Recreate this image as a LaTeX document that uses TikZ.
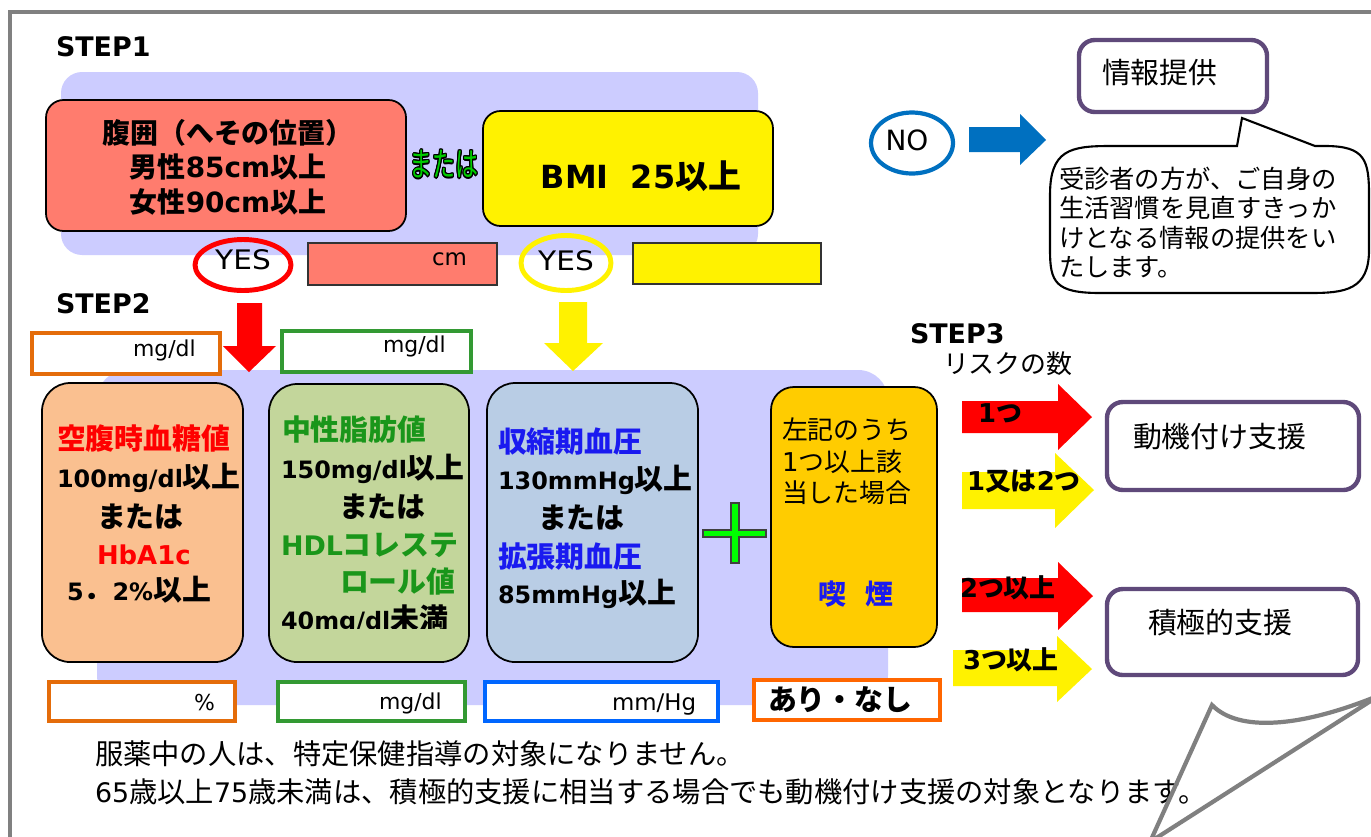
\documentclass[tikz,border=0pt]{standalone}
\usepackage{fontspec}
\setmainfont{Noto Sans CJK JP}
\newfontfamily\dv{DejaVu Sans}
\usepackage[copies]{contour}
\contourlength{0.5pt}
\usetikzlibrary{fit,shapes.geometric}
\definecolor{lav}{HTML}{CCCCFF}
\definecolor{salmon}{HTML}{FF7C6E}
\definecolor{peach}{HTML}{FAC090}
\definecolor{olive}{HTML}{C3D69B}
\definecolor{lblue}{HTML}{B9CDE5}
\definecolor{gold}{HTML}{FFCC00}
\definecolor{orgA}{HTML}{E46C0A}
\definecolor{orgB}{HTML}{FF6600}
\definecolor{grnB}{HTML}{339933}
\definecolor{bluB}{HTML}{0066FF}
\definecolor{purp}{HTML}{5F497A}
\definecolor{arrblue}{HTML}{0070C0}
\definecolor{txtgreen}{HTML}{1A961A}
\definecolor{txtblue}{HTML}{1A1AF0}
\definecolor{framegray}{HTML}{808080}
\definecolor{plusg}{HTML}{00FF00}
\definecolor{matagreen}{HTML}{00CC00}
\newcommand\px[1]{\fontsize{\fpeval{0.567*#1}}{\fpeval{0.70*#1}}\selectfont}
\newcommand\D[2]{{\dv\px{#1}#2}}
\tikzset{
  txtw/.style={inner sep=0pt, outer sep=0pt, anchor=west},
  txtc/.style={inner sep=0pt, outer sep=0pt, anchor=center},
  bigbox/.style={inner sep=0pt, draw=black, line width=1pt},
  unitbox/.style={inner sep=0pt, fill=white, line width=2.6pt},
  purpbox/.style={inner sep=0pt, fill=white, draw=purp, line width=2.5pt, rounded corners=9pt},
  stepfont/.style={font=\dv\bfseries\px{27}},
  colfont/.style={font=\bfseries\px{29}},
  yesfont/.style={font=\dv\px{27}},
}
\begin{document}
\begin{tikzpicture}[x=0.02cm, y=-0.02cm]
\useasboundingbox (0,0) rectangle (1371,836);
\clip (0,0) rectangle (1371,836);
\fill[white] (0,0) rectangle (1371,836);
\draw[framegray, line width=2.4pt] (10,900) -- (10,12) -- (1400,12);

% ---------- STEP1 ----------
\node[txtw, stepfont] (step1) at (56,47) {STEP1};
\fill[lav, rounded corners=12pt] (61,72) rectangle (758,255);
\node[bigbox, fill=salmon, rounded corners=10pt, fit={(46,100) (406,231)}] (waist) {};
\node[txtc, align=center, font=\bfseries\fontsize{15.9}{19.6}\selectfont] (waisttxt) at (228,167)
  {腹囲（へその位置）\\男性\D{28}{85cm}以上\\女性\D{28}{90cm}以上};
\node[txtc] (or1) at (444,165) {\scalebox{1}[1.45]{\px{23}\color{matagreen}\contour{black}{または}}};
\node[bigbox, fill=yellow, rounded corners=10pt, fit={(483,111) (773,226)}] (bmi) {};
\node[txtc, font=\bfseries\px{33}] (bmitxt) at (641,176) {\D{32}{BMI\ \ 25}以上};

\node[ellipse, draw=red, line width=2.8pt, minimum width=1.92cm, minimum height=1.02cm, inner sep=0pt] (yes1) at (243,265) {};
\node[txtc, yesfont, xscale=1.1] (yes1t) at (243,260) {YES};
\node[inner sep=0pt, draw=black!80, line width=0.8pt, fill=salmon, fit={(308,243) (497,285)}] (cmbox) {};
\node[txtw, font=\dv\px{23}] (cm) at (432,259) {cm};
\node[ellipse, draw=yellow, line width=2.8pt, minimum width=1.8cm, minimum height=1.1cm, inner sep=0pt] (yes2) at (566,263) {};
\node[txtc, yesfont, xscale=1.1] (yes2t) at (566,261) {YES};
\node[inner sep=0pt, draw=black!80, line width=0.8pt, fill=yellow, fit={(633,243) (821,284)}] (bmibox) {};

% ---------- STEP2 ----------
\node[txtw, stepfont] (step2) at (56,304) {STEP2};
\fill[lav, rounded corners=17pt] (97,370) rectangle (888,705);
\node[unitbox, draw=orgA, fit={(32,333) (220,374)}] (u1) {};
\node[txtw, font=\dv\px{22}] (u1t) at (133,350) {mg/dl};
\node[unitbox, draw=grnB, fit={(282,331) (471,372)}] (u2) {};
\node[txtw, font=\dv\px{22}] (u2t) at (383,346) {mg/dl};

\fill[red] (237,303) -- (262,303) -- (262,346) -- (276,346) -- (249,372) -- (223,346) -- (237,346) -- cycle;
\fill[yellow] (559,302) -- (587,302) -- (587,343) -- (603,343) -- (573,371) -- (544,343) -- (559,343) -- cycle;

\node[bigbox, fill=peach, rounded corners=16pt, fit={(42,383) (243,662)}] (sugar) {};
\node[bigbox, fill=olive, rounded corners=16pt, fit={(269,384) (469,662)}] (lipid) {};
\node[bigbox, fill=lblue, rounded corners=16pt, fit={(487,383) (698,662)}] (bp) {};
\node[bigbox, fill=gold, rounded corners=13pt, fit={(771,387) (937,647)}] (smoke) {};

% sugar column
\node[txtw, colfont, text=red] (s1) at (57,439) {空腹時血糖値};
\node[txtw, colfont] (s2) at (57,478) {\D{24}{100mg/dl}以上};
\node[txtw, colfont] (s3) at (97,517) {または};
\node[txtw, colfont, text=red] (s4) at (97,555) {\D{26}{HbA1c}};
\node[txtw, colfont] (s5) at (67,590) {\D{24}{5}．\D{24}{2\%}以上};
% lipid column
\node[txtw, colfont, text=txtgreen] (l1) at (282,430) {中性脂肪値};
\node[txtw, colfont] (l2) at (281,469) {\D{24}{150mg/dl}以上};
\node[txtw, colfont] (l3) at (339,507) {または};
\node[txtw, colfont, text=txtgreen] (l4) at (281,545) {\D{27}{HDL}コレステ};
\node[txtw, colfont, text=txtgreen] (l5) at (340,582) {ロール値};
\begin{scope}
\clip (270,600) rectangle (469,628);
\node[txtw, colfont] (l6) at (281,620) {\D{24}{40mg/dl}未満};
\end{scope}
% bp column
\node[txtw, colfont, text=txtblue] (b1) at (498,442) {収縮期血圧};
\node[txtw, colfont] (b2) at (498,480) {\D{24}{130mmHg}以上};
\node[txtw, colfont] (b3) at (538,518) {または};
\node[txtw, colfont, text=txtblue] (b4) at (498,557) {拡張期血圧};
\node[txtw, colfont] (b5) at (498,594) {\D{24}{85mmHg}以上};
% smoke column
\node[txtw, font=\px{26}] (k1) at (782,430) {左記のうち};
\node[txtw, font=\px{26}] (k2) at (782,462) {\D{26}{1}つ以上該};
\node[txtw, font=\px{26}] (k3) at (782,493) {当した場合};
\node[txtc, font=\bfseries\px{28}, text=txtblue] (k4) at (856,594) {喫\hspace{0.7em}煙};

% plus
\draw[fill=plusg, draw=black!75, line width=0.6pt] (731,503) -- (739,503) -- (739,530) -- (766,530) -- (766,537) -- (739,537) -- (739,563) -- (731,563) -- (731,537) -- (703,537) -- (703,530) -- (731,530) -- cycle;

% bottom unit boxes
\node[unitbox, draw=orgA, fit={(49,682) (235,721)}] (u3) {};
\node[txtw, font=\dv\px{22}] (u3t) at (194,703) {\%};
\node[unitbox, draw=grnB, fit={(278,682) (465,721)}] (u4) {};
\node[txtw, font=\dv\px{22}] (u4t) at (379,703) {mg/dl};
\node[unitbox, draw=bluB, fit={(485,682) (718,721)}] (u5) {};
\node[txtw, font=\dv\px{23}] (u5t) at (612,705) {mm/Hg};
\node[unitbox, draw=orgB, fit={(754,680) (940,720)}] (u6) {};
\node[txtw, font=\bfseries\px{29}] (u6t) at (768,700) {あり・なし};

% ---------- STEP3 ----------
\node[txtw, stepfont] (step3) at (910,334) {STEP3};
\node[txtw, font=\px{26}] (risk) at (943,364) {リスクの数};

\fill[red] (962,401) -- (1058,401) -- (1058,384) -- (1092,417) -- (1058,450) -- (1058,433) -- (962,433) -- cycle;
\fill[yellow] (962,472) -- (1055,472) -- (1055,453) -- (1094,490) -- (1055,528) -- (1055,509) -- (962,509) -- cycle;
\fill[red] (962,578) -- (1058,578) -- (1058,562) -- (1093,596) -- (1058,630) -- (1058,612) -- (962,612) -- cycle;
\fill[yellow] (953,650) -- (1057,650) -- (1057,636) -- (1092,669) -- (1057,702) -- (1057,686) -- (953,686) -- cycle;
\node[txtw, font=\bfseries\px{26}] (r1) at (978,413) {\D{26}{1}つ};
\node[txtw, font=\bfseries\px{26}] (r2) at (967,482) {\D{26}{1}又は\D{26}{2}つ};
\node[txtw, font=\bfseries\px{26}] (r3) at (960,588) {\D{26}{2}つ以上};
\node[txtw, font=\bfseries\px{26}] (r4) at (963,660) {\D{26}{3}つ以上};

\node[purpbox, fit={(1107,402) (1359,490)}] (motiv) {};
\node[txtw, font=\px{29}] (motivt) at (1133,437) {動機付け支援};
\node[purpbox, fit={(1107,589) (1358,675)}] (active) {};
\node[txtw, font=\px{29}] (activet) at (1148,623) {積極的支援};

% ---------- NO branch ----------
\node[ellipse, draw=arrblue, line width=2.4pt, minimum width=1.64cm, minimum height=1.22cm, inner sep=0pt] (no) at (912,143) {};
\node[txtc, font=\dv\px{28}] (not) at (907,140) {NO};
\fill[arrblue] (969,127) -- (1020,127) -- (1020,114) -- (1046,140) -- (1020,165) -- (1020,152) -- (969,152) -- cycle;
\node[purpbox, fit={(1079,40) (1267,112)}] (info) {};
\node[txtw, font=\px{29}] (infot) at (1102,73) {情報提供};
\draw[black, line width=1.2pt, fill=white]
  (1237,146) -- (1242,118) -- (1315,146) -- (1325,146)
  .. controls (1365,146) and (1369,160) .. (1369,195) -- (1369,250)
  .. controls (1369,290) and (1345,293) .. (1310,293) -- (1100,293)
  .. controls (1055,293) and (1050,282) .. (1050,250) -- (1050,195)
  .. controls (1050,150) and (1070,146) .. (1110,146) -- cycle;
\node[txtw, font=\px{25.4}] (bt1) at (1059,179) {受診者の方が、ご自身の};
\node[txtw, font=\px{25.4}] (bt2) at (1059,208) {生活習慣を見直すきっか};
\node[txtw, font=\px{25.4}] (bt3) at (1059,238) {けとなる情報の提供をい};
\node[txtw, font=\px{25.4}] (bt4) at (1059,267) {たします。};

% ---------- notes ----------
\node[txtw, font=\px{28.4}] (note1) at (95,754) {服薬中の人は、特定保健指導の対象になりません。};
\node[txtw, font=\px{28.4}] (note2) at (95,792) {\D{27}{65}歳以上\D{27}{75}歳未満は、積極的支援に相当する場合でも動機付け支援の対象となります。};

% page curl
\draw[framegray, line width=2.4pt, line join=miter]
  (1212,705) .. controls (1238,732) and (1300,728) .. (1380,695) -- (1150,842) -- cycle;
\end{tikzpicture}
\end{document}
